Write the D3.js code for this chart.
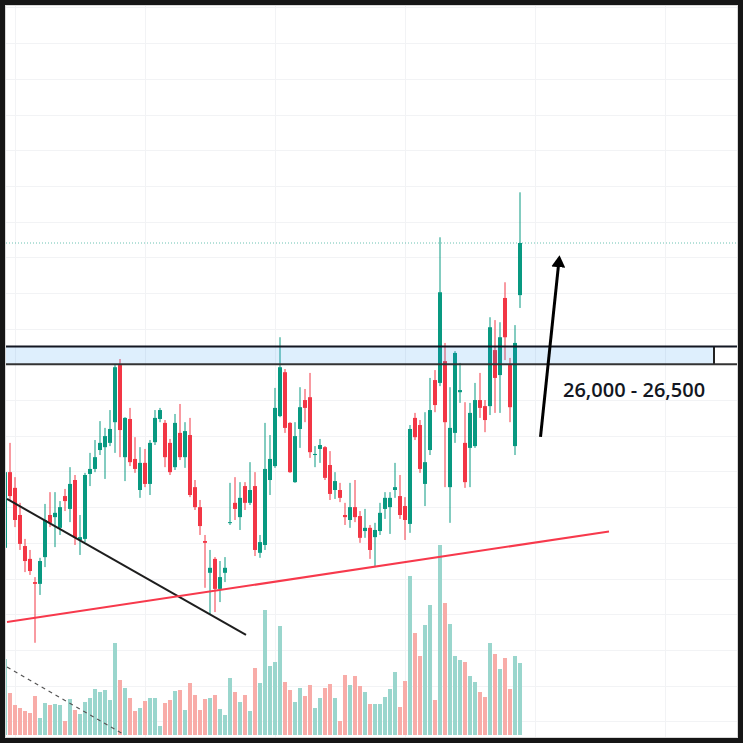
<!DOCTYPE html>
<html>
<head>
<meta charset="utf-8">
<title>Candles with zone</title>
<script src="https://d3js.org/d3.v7.min.js"></script>
<style>
  html, body { margin: 0; padding: 0; background: #161616; }
  svg { display: block; }
</style>
</head>
<body>
<svg class="canvas" width="743" height="743"></svg>
<script>
// bar index -1 .. 102, prices
const bars = d3.range(-1, 103);

const open = [20860,22980,22540,21780,20910,20550,19900,19850,20600,21780,
  21720,21420,22310,21950,22760,21080,21110,22930,23070,23600,
  23680,23800,24380,25980,23400,24470,23350,22480,23240,22650,
  23820,24470,24360,23800,23120,24080,23400,24020,22560,22000,
  21050,20160,20550,19710,20160,21560,22120,21720,22590,22120,
  22590,20720,20940,22760,23150,24550,25780,24360,22700,24190,
  25000,25080,23460,23630,23680,23180,22480,22480,21780,21640,
  22000,21750,21330,21420,21160,21330,21950,22000,22480,22310,
  22030,21530,24500,24300,22650,23600,25560,25480,26090,22560,
  24080,25220,23800,23660,23710,25000,24830,24830,26400,25700,
  27860,25980,23710,27940];

const high = [23040,23800,22840,22120,21110,20800,20040,20580,22090,22420,
  22420,22170,22510,23120,22900,21780,22960,23520,23880,24410,
  24220,24720,25980,26150,24520,24780,23960,23680,23630,23880,
  24720,24780,24440,23910,24610,24890,24380,24500,22760,22200,
  21220,20800,20600,20490,20600,22680,22840,22700,22700,23260,
  22980,21220,24360,24020,25340,26760,25870,24380,24380,25360,
  25310,25760,23710,23910,23710,23570,22980,22680,22120,22680,
  22760,21890,21950,21500,21560,22120,22420,22420,23240,22900,
  22280,24300,24640,24440,24660,25620,25840,29560,26600,25360,
  26370,26040,24940,24920,25480,25760,25000,27320,27240,27180,
  28300,26180,27100,30820];

const low = [20800,22200,21440,20800,20180,20100,18200,19540,20320,21440,
  20880,21220,21890,21580,20940,20660,21020,22590,22980,23460,
  22790,23710,23520,23400,22730,23150,22960,22260,22560,22340,
  23740,24380,23120,22900,23040,23320,23100,22280,21920,21220,
  19740,18980,19060,19340,19900,21500,21640,21360,21920,22060,
  20630,20580,20800,22340,23100,24520,24080,22960,22680,23660,
  24380,23380,23120,23240,22760,22200,22230,22140,21500,21420,
  21580,21000,21140,20550,20320,21220,21670,21250,22260,21670,
  21080,21280,23880,22960,22030,23460,24660,25390,22560,21560,
  23800,24920,22540,22560,23660,24500,24100,24580,24640,24640,
  26120,24380,23460,27580];

const close = [22980,22310,21640,20970,20490,20210,19850,20490,21640,21560,
  21840,22000,22170,22650,21140,21160,22900,23070,23400,23800,
  23990,24190,25920,24160,24500,23260,23070,23240,22650,23800,
  24500,24720,23400,22980,24360,23400,24130,22340,22000,21470,
  21000,20300,19710,20040,20300,21580,21950,22260,22120,22480,
  20800,21020,23070,23350,24780,25920,24220,22980,23990,24800,
  24780,23540,23490,23740,22820,22370,22730,22260,21720,22000,
  21720,21140,21420,20800,21360,21840,22260,22260,22560,21780,
  21640,24190,23960,23070,23260,24720,24860,28020,24380,24220,
  26320,25280,22700,24640,25000,24780,24440,27040,25620,26760,
  26760,24800,26600,29400];

const volume = [76,42,30,27,24,22,39,17,32,30,
  31,30,14,36,25,21,33,37,46,43,
  45,35,92,55,47,37,24,27,34,37,
  37,9,32,35,44,45,25,52,40,25,
  36,37,40,26,20,57,43,33,40,24,
  67,52,125,69,73,109,53,45,33,47,
  39,50,27,37,47,51,37,14,60,50,
  59,49,43,31,31,31,38,46,63,28,
  54,159,102,79,110,130,35,190,132,111,
  79,75,73,59,53,43,38,92,81,66,
  77,46,79,72];

// drawings
const zone = [26000, 26500];
const zoneEnd = 140.8;
const zoneLabel = "26,000 - 26,500";
const downTrend = [[-0.6, 22230], [47.2, 18420]];
const supportLine = [[-0.6, 18780], [119.8, 21320]];
const volTrend = [[-0.6, 68], [23, 0]];
const arrowPts = [[106.1, 23970], [109.7, 28780]];
const labelAt = [110.6, 25080];
const gridBars = [1, 27, 53, 79, 105, 131];

const up = '#089981', down = '#f23645';
const upVol = '#9ad6cd', downVol = '#f8aca8';

const svg = d3.select('.canvas');
const L = 6, T = 6, R = 737, B = 737;

const x = d3.scaleLinear().domain([-1, 102]).range([5, 520]);
const y = d3.scaleLinear().domain([15560, 36040]).range([B, T]);
const yv = d3.scaleLinear().domain([0, d3.max(volume)]).range([735, 545]);

svg.append('rect').attr('x', 0).attr('y', 0).attr('width', 743).attr('height', 743).attr('fill', '#161616');
svg.append('rect').attr('x', L - 0.5).attr('y', T - 0.5).attr('width', R - L + 1).attr('height', B - T + 1)
  .attr('fill', '#fff').attr('stroke', '#d9d9d9');

svg.append('clipPath').attr('id', 'clip')
  .append('rect').attr('x', L).attr('y', T).attr('width', R - L).attr('height', B - T);

const g = svg.append('g').attr('clip-path', 'url(#clip)');

// grid
g.selectAll('.vg').data(gridBars).enter().append('line')
  .attr('x1', d => x(d) + 0.5).attr('x2', d => x(d) + 0.5)
  .attr('y1', T).attr('y2', B).attr('stroke', '#f2f3f5');
g.selectAll('.hg').data(y.ticks(20)).enter().append('line')
  .attr('x1', L).attr('x2', R)
  .attr('y1', d => Math.round(y(d)) + 0.5).attr('y2', d => Math.round(y(d)) + 0.5)
  .attr('stroke', '#f2f3f5');

// volume
g.selectAll('.vol').data(bars).enter().append('rect')
  .attr('x', (d, i) => x(d) - 2)
  .attr('width', 4)
  .attr('y', (d, i) => yv(volume[i]))
  .attr('height', (d, i) => yv(0) - yv(volume[i]))
  .attr('fill', (d, i) => close[i] >= open[i] ? upVol : downVol);

g.append('line')
  .attr('x1', x(volTrend[0][0])).attr('y1', yv(volTrend[0][1]))
  .attr('x2', x(volTrend[1][0])).attr('y2', yv(volTrend[1][1]))
  .attr('stroke', '#555').attr('stroke-width', 1.2).attr('stroke-dasharray', '4,4');

// candles
const c = g.selectAll('.candle').data(bars).enter().append('g');
c.append('line')
  .attr('x1', d => x(d)).attr('x2', d => x(d))
  .attr('y1', (d, i) => y(high[i])).attr('y2', (d, i) => y(low[i]))
  .attr('stroke', (d, i) => close[i] >= open[i] ? up : down);
c.append('rect')
  .attr('x', d => x(d) - 2).attr('width', 4)
  .attr('y', (d, i) => y(Math.max(open[i], close[i])))
  .attr('height', (d, i) => Math.max(1, Math.abs(y(open[i]) - y(close[i]))))
  .attr('fill', (d, i) => close[i] >= open[i] ? up : down);

// zone
g.append('rect')
  .attr('x', L - 2).attr('width', x(zoneEnd) - L + 2)
  .attr('y', y(zone[1])).attr('height', y(zone[0]) - y(zone[1]))
  .attr('fill', 'rgb(33,150,243)').attr('fill-opacity', 0.15);
g.append('line').attr('x1', x(zoneEnd)).attr('x2', x(zoneEnd))
  .attr('y1', y(zone[1])).attr('y2', y(zone[0])).attr('stroke', '#222').attr('stroke-width', 2);
g.selectAll('.zl').data(zone).enter().append('line')
  .attr('x1', L).attr('x2', R)
  .attr('y1', d => y(d)).attr('y2', d => y(d))
  .attr('stroke', (d, i) => i ? '#131722' : '#333').attr('stroke-width', 2);

// last price
g.append('line')
  .attr('x1', L).attr('x2', R)
  .attr('y1', y(close[close.length - 1])).attr('y2', y(close[close.length - 1]))
  .attr('stroke', up).attr('stroke-opacity', 0.6).attr('stroke-dasharray', '1,2');

// trend lines
const line = d3.line().x(d => x(d[0])).y(d => y(d[1]));
g.append('path').attr('d', line(downTrend)).attr('fill', 'none')
  .attr('stroke', '#1e1e1e').attr('stroke-width', 2);
g.append('path').attr('d', line(supportLine)).attr('fill', 'none')
  .attr('stroke', '#f7394c').attr('stroke-width', 2);

// arrow
svg.append('defs').append('marker').attr('id', 'head')
  .attr('markerUnits', 'userSpaceOnUse')
  .attr('viewBox', '0 0 12 14').attr('refX', 2).attr('refY', 7)
  .attr('markerWidth', 12).attr('markerHeight', 14).attr('orient', 'auto')
  .append('path').attr('d', 'M0,0 L12,7 L0,14 Z').attr('fill', '#000');
g.append('path').attr('d', line(arrowPts)).attr('fill', 'none')
  .attr('stroke', '#000').attr('stroke-width', 3).attr('marker-end', 'url(#head)');

g.append('text')
  .attr('x', x(labelAt[0])).attr('y', y(labelAt[1]))
  .attr('font-family', '"Open Sans", sans-serif').attr('font-weight', 600)
  .attr('font-size', 20).attr('fill', '#131722')
  .text(zoneLabel);
</script>
</body>
</html>
